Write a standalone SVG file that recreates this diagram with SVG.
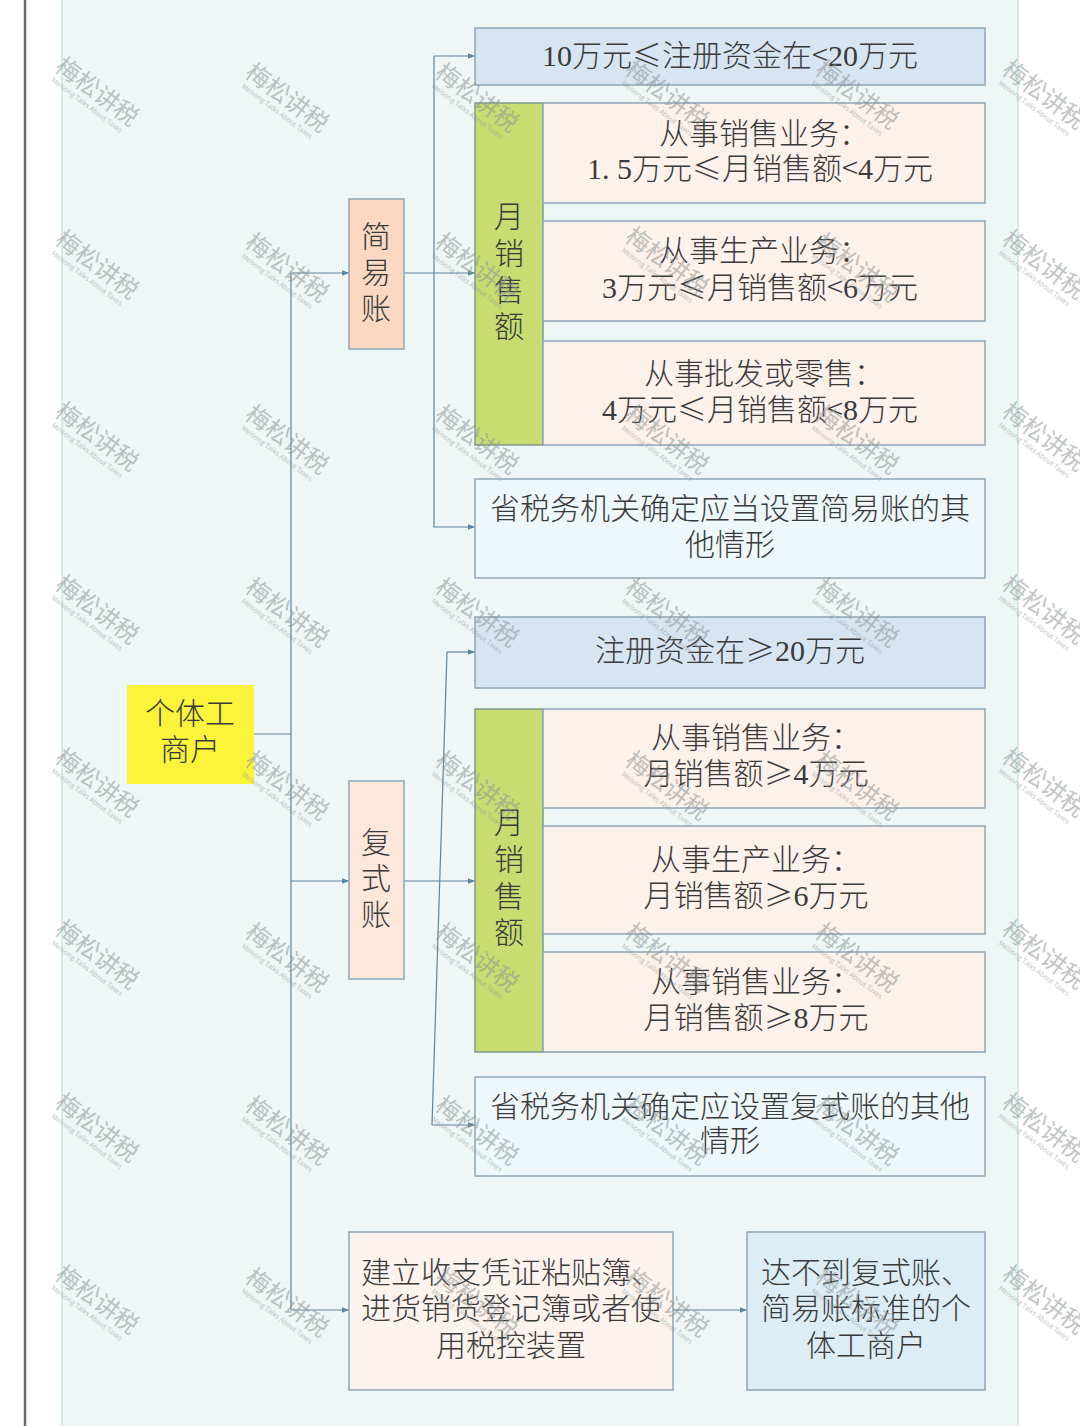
<svg xmlns="http://www.w3.org/2000/svg" xmlns:xlink="http://www.w3.org/1999/xlink" width="1080" height="1426" viewBox="0 0 1080 1426">
<style>
.t{font-family:"Liberation Serif","Noto Sans CJK SC",serif;font-size:30px;font-weight:300;fill:#3a3a3a;text-anchor:middle}
.c{font-family:"Noto Sans CJK SC",sans-serif;font-weight:300}
.box{stroke:#8ea6b6;stroke-width:1.5}
.blue{fill:#d7e5f3}
.peach{fill:#fdf2eb}
.light{fill:#eef8fa}
.green{fill:#c8dc72;stroke:#7f9a8c;stroke-width:1.5}
.conn{fill:none;stroke:#5f849c;stroke-width:1.2}
.wm text{font-family:"Noto Sans CJK SC",sans-serif;fill:#8f9797;text-anchor:middle}
</style>
<defs>
<marker id="ah" viewBox="0 0 10 10" refX="10" refY="5" markerWidth="7" markerHeight="7" markerUnits="userSpaceOnUse" orient="auto">
<path d="M0,1 L10,5 L0,9 z" fill="#5f849c"/>
</marker>
<g id="wm" class="wm" opacity="0.55">
<g transform="rotate(37)">
<text x="0" y="8" font-size="24">梅松讲税</text>
<text x="0" y="19" font-size="7">Meisong Talks About Taxes</text>
</g>
</g>
</defs>
<rect x="0" y="0" width="1080" height="1426" fill="#ffffff"/>
<rect x="62" y="-2" width="956" height="1430" fill="#eef7f6" stroke="#cfe2e2" stroke-width="1.5"/>
<line x1="25" y1="0" x2="25" y2="1426" stroke="#6a6a6a" stroke-width="2.5"/>

<g id="connectors">
<path class="conn" d="M254,734 H291"/>
<path class="conn" d="M291,273 V1310"/>
<path class="conn" d="M291,273 H349" marker-end="url(#ah)"/>
<path class="conn" d="M291,881 H349" marker-end="url(#ah)"/>
<path class="conn" d="M291,1310 H349" marker-end="url(#ah)"/>
<path class="conn" d="M404,273 H475" marker-end="url(#ah)"/>
<path class="conn" d="M434,56 V527"/>
<path class="conn" d="M434,56 H475" marker-end="url(#ah)"/>
<path class="conn" d="M434,527 H475" marker-end="url(#ah)"/>
<path class="conn" d="M404,881 H475" marker-end="url(#ah)"/>
<path class="conn" d="M447,652 L432,1125"/>
<path class="conn" d="M447,652 H475" marker-end="url(#ah)"/>
<path class="conn" d="M432,1125 H475" marker-end="url(#ah)"/>
<path class="conn" d="M673,1310 H747" marker-end="url(#ah)"/>
</g>

<g id="n-geti">
<rect x="127" y="685" width="127" height="99" fill="#fbf43a"/>
<text class="t" x="190" y="724">个体工</text>
<text class="t" x="190" y="760">商户</text>
</g>

<g id="n-jianyi">
<rect class="box" x="349" y="199" width="55" height="150" fill="#fad8c1"/>
<text class="t" x="376" y="247">简</text>
<text class="t" x="376" y="283">易</text>
<text class="t" x="376" y="319">账</text>
</g>

<g id="n-fushi">
<rect class="box" x="349" y="781" width="55" height="198" fill="#fde6da"/>
<text class="t" x="376" y="853">复</text>
<text class="t" x="376" y="889">式</text>
<text class="t" x="376" y="925">账</text>
</g>

<g id="n-zc1">
<rect class="box blue" x="475" y="28" width="510" height="57"/>
<text class="t" x="730" y="66">10万元<tspan class="c">≤</tspan>注册资金在<tspan class="c">&lt;</tspan>20万元</text>
</g>

<g id="n-yue1">
<rect class="green" x="475" y="103" width="68" height="342"/>
<text class="t" x="509" y="227">月</text>
<text class="t" x="509" y="264">销</text>
<text class="t" x="509" y="301">售</text>
<text class="t" x="509" y="337">额</text>
</g>

<g id="n-s1">
<rect class="box peach" x="543" y="103" width="442" height="100"/>
<text class="t" x="764" y="144">从事销售业务：</text>
<text class="t" x="760" y="179">1. 5万元<tspan class="c">≤</tspan>月销售额<tspan class="c">&lt;</tspan>4万元</text>
</g>
<g id="n-s2">
<rect class="box peach" x="543" y="221" width="442" height="100"/>
<text class="t" x="764" y="261">从事生产业务：</text>
<text class="t" x="760" y="298">3万元<tspan class="c">≤</tspan>月销售额<tspan class="c">&lt;</tspan>6万元</text>
</g>
<g id="n-s3">
<rect class="box peach" x="543" y="341" width="442" height="104"/>
<text class="t" x="764" y="384">从事批发或零售：</text>
<text class="t" x="760" y="420">4万元<tspan class="c">≤</tspan>月销售额<tspan class="c">&lt;</tspan>8万元</text>
</g>

<g id="n-other1">
<rect class="box light" x="475" y="479" width="510" height="99"/>
<text class="t" x="730" y="519">省税务机关确定应当设置简易账的其</text>
<text class="t" x="730" y="555">他情形</text>
</g>

<g id="n-zc2">
<rect class="box blue" x="475" y="617" width="510" height="71"/>
<text class="t" x="730" y="661">注册资金在<tspan class="c">≥</tspan>20万元</text>
</g>

<g id="n-yue2">
<rect class="green" x="475" y="709" width="68" height="343"/>
<text class="t" x="509" y="833">月</text>
<text class="t" x="509" y="870">销</text>
<text class="t" x="509" y="907">售</text>
<text class="t" x="509" y="943">额</text>
</g>

<g id="n-f1">
<rect class="box peach" x="543" y="709" width="442" height="99"/>
<text class="t" x="756" y="748">从事销售业务：</text>
<text class="t" x="756" y="784">月销售额<tspan class="c">≥</tspan>4万元</text>
</g>
<g id="n-f2">
<rect class="box peach" x="543" y="826" width="442" height="108"/>
<text class="t" x="756" y="870">从事生产业务：</text>
<text class="t" x="756" y="906">月销售额<tspan class="c">≥</tspan>6万元</text>
</g>
<g id="n-f3">
<rect class="box peach" x="543" y="952" width="442" height="100"/>
<text class="t" x="756" y="992">从事销售业务：</text>
<text class="t" x="756" y="1028">月销售额<tspan class="c">≥</tspan>8万元</text>
</g>

<g id="n-other2">
<rect class="box light" x="475" y="1077" width="510" height="99"/>
<text class="t" x="730" y="1117">省税务机关确定应设置复式账的其他</text>
<text class="t" x="730" y="1151">情形</text>
</g>

<g id="n-tiebu">
<rect class="box" x="349" y="1232" width="324" height="158" fill="#fdf3ee"/>
<text class="t" x="511" y="1283">建立收支凭证粘贴簿、</text>
<text class="t" x="511" y="1319">进货销货登记簿或者使</text>
<text class="t" x="511" y="1356">用税控装置</text>
</g>

<g id="n-weida">
<rect class="box" x="747" y="1232" width="238" height="158" fill="#dcedf6"/>
<text class="t" x="866" y="1283">达不到复式账、</text>
<text class="t" x="866" y="1319">简易账标准的个</text>
<text class="t" x="866" y="1356">体工商户</text>
</g>

<g id="watermarks">
<use xlink:href="#wm" x="97" y="92"/><use xlink:href="#wm" x="287" y="98"/><use xlink:href="#wm" x="477" y="98"/><use xlink:href="#wm" x="667" y="95"/><use xlink:href="#wm" x="857" y="95"/><use xlink:href="#wm" x="1044" y="95"/>
<use xlink:href="#wm" x="97" y="265"/><use xlink:href="#wm" x="287" y="268"/><use xlink:href="#wm" x="477" y="268"/><use xlink:href="#wm" x="667" y="262"/><use xlink:href="#wm" x="857" y="268"/><use xlink:href="#wm" x="1044" y="265"/>
<use xlink:href="#wm" x="97" y="437"/><use xlink:href="#wm" x="287" y="440"/><use xlink:href="#wm" x="477" y="440"/><use xlink:href="#wm" x="667" y="440"/><use xlink:href="#wm" x="857" y="440"/><use xlink:href="#wm" x="1044" y="437"/>
<use xlink:href="#wm" x="97" y="610"/><use xlink:href="#wm" x="287" y="613"/><use xlink:href="#wm" x="477" y="613"/><use xlink:href="#wm" x="667" y="613"/><use xlink:href="#wm" x="857" y="613"/><use xlink:href="#wm" x="1044" y="610"/>
<use xlink:href="#wm" x="97" y="783"/><use xlink:href="#wm" x="287" y="786"/><use xlink:href="#wm" x="477" y="786"/><use xlink:href="#wm" x="667" y="786"/><use xlink:href="#wm" x="857" y="786"/><use xlink:href="#wm" x="1044" y="783"/>
<use xlink:href="#wm" x="97" y="955"/><use xlink:href="#wm" x="287" y="958"/><use xlink:href="#wm" x="477" y="958"/><use xlink:href="#wm" x="667" y="958"/><use xlink:href="#wm" x="857" y="958"/><use xlink:href="#wm" x="1044" y="955"/>
<use xlink:href="#wm" x="97" y="1128"/><use xlink:href="#wm" x="287" y="1131"/><use xlink:href="#wm" x="477" y="1131"/><use xlink:href="#wm" x="667" y="1131"/><use xlink:href="#wm" x="857" y="1131"/><use xlink:href="#wm" x="1044" y="1128"/>
<use xlink:href="#wm" x="97" y="1300"/><use xlink:href="#wm" x="287" y="1303"/><use xlink:href="#wm" x="477" y="1303"/><use xlink:href="#wm" x="667" y="1303"/><use xlink:href="#wm" x="857" y="1303"/><use xlink:href="#wm" x="1044" y="1300"/>
</g>
</svg>
